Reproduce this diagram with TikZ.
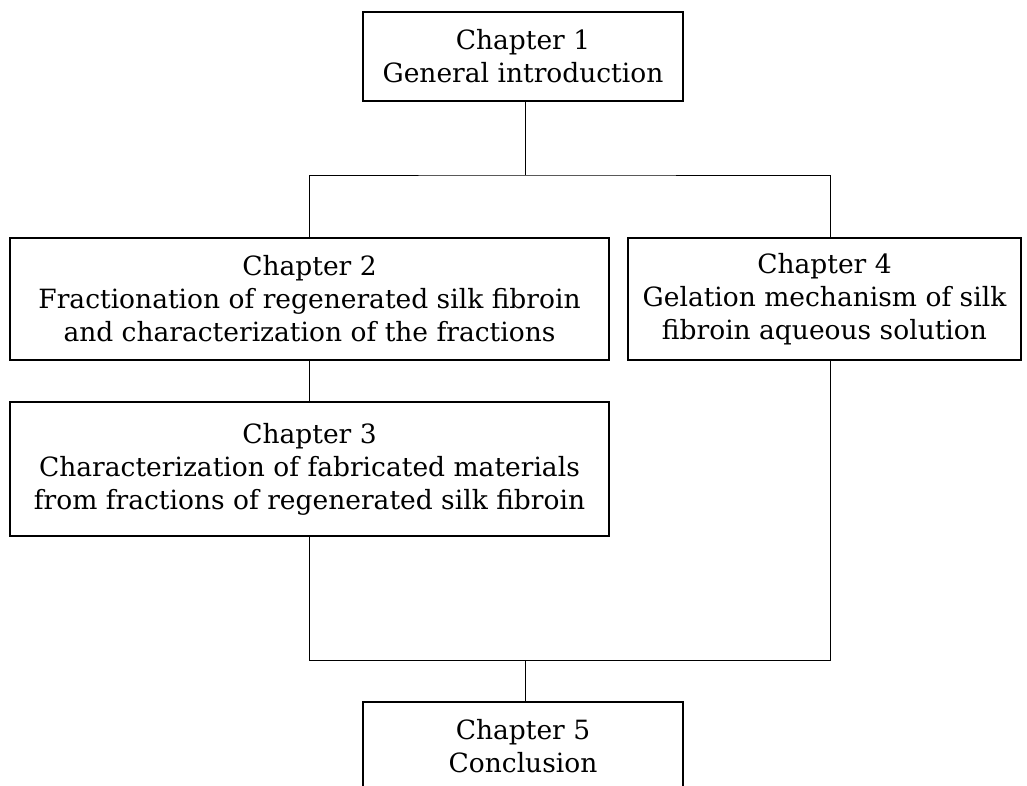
\documentclass[tikz,border=0pt]{standalone}
\usepackage{fontspec}
\setmainfont{DejaVu Serif}
\usepackage{tikz}
\usetikzlibrary{positioning}

\tikzset{
  chapbox/.style={draw, line width=2pt, align=center, inner sep=0pt,
    font=\fontsize{26.5}{33}\selectfont},
  link/.style={line width=1pt}
}

\begin{document}
\begin{tikzpicture}[x=1pt, y=-1pt]
\clip (0,0) rectangle (1027,785);
% -- chapters --
\node[chapbox, minimum width=320pt, minimum height=89pt] (c1) at (523,56.5) {Chapter 1\\General introduction};
\node[chapbox, minimum width=599pt, minimum height=122pt] (c2) at (309.5,299) {Chapter 2\\Fractionation of regenerated silk fibroin\\and characterization of the fractions};
\node[chapbox, minimum width=393pt, minimum height=122pt] (c4) at (824.5,299) {Chapter 4\\Gelation mechanism of silk\\fibroin aqueous solution};
\node[chapbox, minimum width=599pt, minimum height=134pt] (c3) at (309.5,469) {Chapter 3\\Characterization of fabricated materials\\from fractions of regenerated silk fibroin};
\node[chapbox, minimum width=320pt, minimum height=89pt] (c5) at (523,746.5) {Chapter 5\\Conclusion};
% -- junctions --
\coordinate (top) at (525,175);
\coordinate (bot) at (525,660);
\coordinate (c4in) at ([xshift=5.5pt]c4.north);
\coordinate (c4out) at ([xshift=5.5pt]c4.south);
% -- links --
\draw[link] (c1.south -| top) -- (top);
\draw[link] (c2.north) |- (top) -| (c4in);
\draw[link] (c2.south) -- (c3.north);
\draw[link] (c3.south) |- (bot) -| (c4out);
\draw[link] (bot) -- (c5.north -| bot);
\end{tikzpicture}
\end{document}
